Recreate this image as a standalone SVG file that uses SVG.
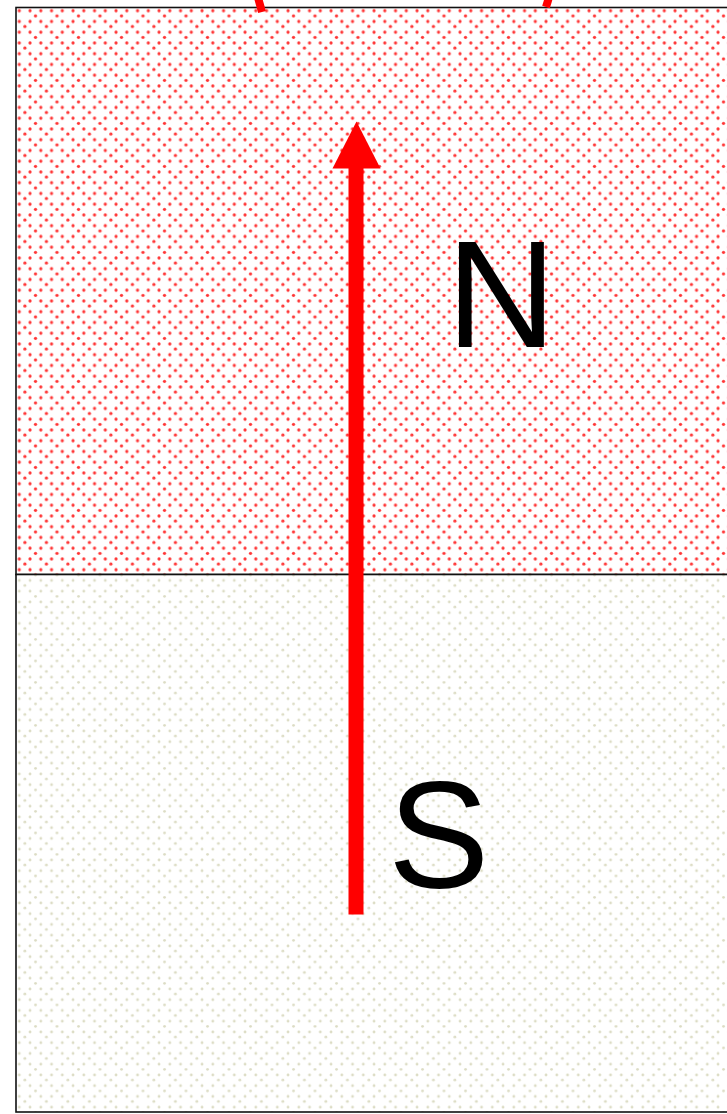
<svg xmlns="http://www.w3.org/2000/svg" width="727" height="1114" viewBox="0 0 727 1114">
  <defs>
    <pattern id="redDots" patternUnits="userSpaceOnUse" x="19.3" y="10.7" width="21.5" height="21.5">
      <g fill="#ff1f1f" fill-opacity="0.9">
        <circle cx="0" cy="0" r="1.6"/>
        <circle cx="10.75" cy="0" r="1.6"/>
        <circle cx="21.5" cy="0" r="1.6"/>
        <circle cx="0" cy="10.75" r="1.6"/>
        <circle cx="10.75" cy="10.75" r="1.6"/>
        <circle cx="21.5" cy="10.75" r="1.6"/>
        <circle cx="0" cy="21.5" r="1.6"/>
        <circle cx="10.75" cy="21.5" r="1.6"/>
        <circle cx="21.5" cy="21.5" r="1.6"/>
        <circle cx="16.2" cy="5.2" r="1.6"/>
        <circle cx="5.6" cy="15.8" r="1.6"/>
      </g>
    </pattern>
    <pattern id="greyDots" patternUnits="userSpaceOnUse" x="19.3" y="10.7" width="21.5" height="21.5">
      <g fill="#dcdcc4">
        <circle cx="0" cy="0" r="1.4"/>
        <circle cx="10.75" cy="0" r="1.4"/>
        <circle cx="21.5" cy="0" r="1.4"/>
        <circle cx="0" cy="10.75" r="1.4"/>
        <circle cx="10.75" cy="10.75" r="1.4"/>
        <circle cx="21.5" cy="10.75" r="1.4"/>
        <circle cx="0" cy="21.5" r="1.4"/>
        <circle cx="10.75" cy="21.5" r="1.4"/>
        <circle cx="21.5" cy="21.5" r="1.4"/>
        <circle cx="16.2" cy="5.2" r="1.4"/>
        <circle cx="5.6" cy="15.8" r="1.4"/>
      </g>
    </pattern>
    <style>
      .pole { font-family: "Liberation Sans", Arial, sans-serif; font-size: 152px; fill: #000; }
      .edge { stroke: #111111; stroke-width: 1.6; }
      .field { stroke: #ff0000; stroke-width: 8; fill: none; }
    </style>
  </defs>
  <rect x="0" y="0" width="727" height="1114" fill="#ffffff"/>

  <g id="north-pole">
    <rect x="16" y="7.5" width="730" height="567" fill="#ffffff"/>
    <rect x="16" y="7.5" width="730" height="567" fill="url(#redDots)" class="edge"/>
    <text class="pole" x="446.5" y="347">N</text>
  </g>

  <g id="south-pole">
    <rect x="16" y="574.5" width="730" height="537.5" fill="#ffffff"/>
    <rect x="16" y="574.5" width="730" height="537.5" fill="url(#greyDots)" class="edge"/>
    <text class="pole" x="388" y="887.5">S</text>
  </g>

  <g id="connectors">
    <path class="field" d="M257,-6 L262,12"/>
    <path class="field" d="M550,-6 L546,7"/>
    <rect x="348.5" y="165" width="15" height="749.5" fill="#ff0000"/>
    <polygon points="356.5,121.5 380.5,168.5 332.5,168.5" fill="#ff0000"/>
  </g>
</svg>
